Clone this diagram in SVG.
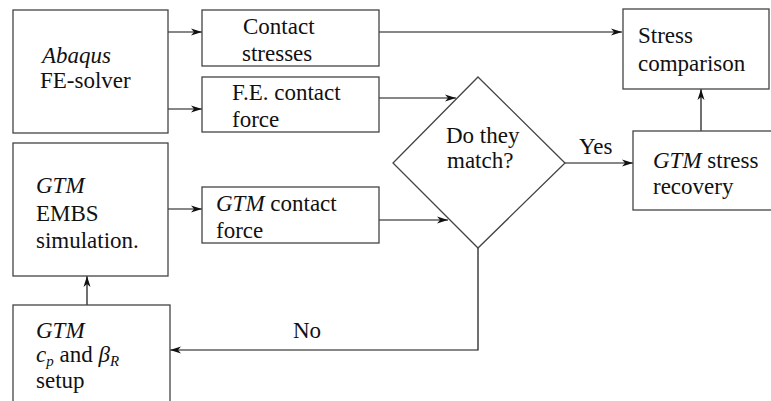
<svg xmlns="http://www.w3.org/2000/svg" width="771" height="401" viewBox="0 0 771 401">
<style>
.box{fill:#fff;stroke:#444;stroke-width:1.3}
.c{fill:none;stroke:#111;stroke-width:1.2}
</style>
<defs>
<marker id="ah" markerWidth="12" markerHeight="8" refX="11" refY="4" orient="auto" markerUnits="userSpaceOnUse">
<path d="M0,0.5 L11,4 L0,7.5 L3,4 z" fill="#111"/>
</marker>
</defs>
<rect width="771" height="401" fill="#fff"/>
<g id="connectors">
<path class="c" d="M168,32 H202" marker-end="url(#ah)"/>
<path class="c" d="M168,109 H202" marker-end="url(#ah)"/>
<path class="c" d="M379,32 H622" marker-end="url(#ah)"/>
<path class="c" d="M379,98 H456" marker-end="url(#ah)"/>
<path class="c" d="M168,209 H202" marker-end="url(#ah)"/>
<path class="c" d="M379,220 H448" marker-end="url(#ah)"/>
<path class="c" d="M565,163 H633" marker-end="url(#ah)"/>
<path class="c" d="M701,131 V89" marker-end="url(#ah)"/>
<path class="c" d="M478,248 V350 H170" marker-end="url(#ah)"/>
<path class="c" d="M87,305 V276" marker-end="url(#ah)"/>
<text style="font-family:'Liberation Serif',serif;font-size:23px" fill="#111" x="579" y="154">Yes</text>
<text style="font-family:'Liberation Serif',serif;font-size:23px" fill="#111" x="293" y="338">No</text>
</g>
<g id="abaqus">
<rect class="box" x="13" y="10" width="155" height="123"/>
<text style="font-family:'Liberation Serif',serif;font-size:23px;font-style:italic" fill="#111" x="42" y="63">Abaqus</text>
<text style="font-family:'Liberation Serif',serif;font-size:23px" fill="#111" x="40" y="88">FE-solver</text>
</g>
<g id="contact-stresses">
<rect class="box" x="202" y="10" width="177" height="56"/>
<text style="font-family:'Liberation Serif',serif;font-size:23px" fill="#111" x="243" y="34">Contact</text>
<text style="font-family:'Liberation Serif',serif;font-size:23px" fill="#111" x="242" y="61">stresses</text>
</g>
<g id="fe-contact-force">
<rect class="box" x="202" y="77" width="177" height="55"/>
<text style="font-family:'Liberation Serif',serif;font-size:23px" fill="#111" x="232" y="100">F.E. contact</text>
<text style="font-family:'Liberation Serif',serif;font-size:23px" fill="#111" x="232" y="127">force</text>
</g>
<g id="stress-comparison">
<rect class="box" x="623" y="9" width="146" height="80"/>
<text style="font-family:'Liberation Serif',serif;font-size:23px" fill="#111" x="638" y="43">Stress</text>
<text style="font-family:'Liberation Serif',serif;font-size:23px" fill="#111" x="638" y="71">comparison</text>
</g>
<g id="decision">
<polygon class="box" points="478,77 565,163 478,248 393,163"/>
<text style="font-family:'Liberation Serif',serif;font-size:23px" fill="#111" x="446" y="143">Do they</text>
<text style="font-family:'Liberation Serif',serif;font-size:23px" fill="#111" x="447" y="168">match?</text>
</g>
<g id="gtm-stress-recovery">
<rect class="box" x="633" y="131" width="140" height="79"/>
<text style="font-family:'Liberation Serif',serif;font-size:23px" fill="#111" x="653" y="168"><tspan font-style="italic">GTM</tspan> stress</text>
<text style="font-family:'Liberation Serif',serif;font-size:23px" fill="#111" x="653" y="194">recovery</text>
</g>
<g id="gtm-embs">
<rect class="box" x="13" y="143" width="155" height="133"/>
<text style="font-family:'Liberation Serif',serif;font-size:23px;font-style:italic" fill="#111" x="36" y="193">GTM</text>
<text style="font-family:'Liberation Serif',serif;font-size:23px" fill="#111" x="36" y="221">EMBS</text>
<text style="font-family:'Liberation Serif',serif;font-size:23px" fill="#111" x="36" y="248">simulation.</text>
</g>
<g id="gtm-contact-force">
<rect class="box" x="202" y="187" width="177" height="56"/>
<text style="font-family:'Liberation Serif',serif;font-size:23px" fill="#111" x="216" y="211"><tspan font-style="italic">GTM</tspan> contact</text>
<text style="font-family:'Liberation Serif',serif;font-size:23px" fill="#111" x="216" y="238">force</text>
</g>
<g id="gtm-setup">
<rect class="box" x="13" y="305" width="157" height="110"/>
<text style="font-family:'Liberation Serif',serif;font-size:23px;font-style:italic" fill="#111" x="36" y="338">GTM</text>
<text style="font-family:'Liberation Serif',serif;font-size:23px" fill="#111" x="36" y="362"><tspan font-style="italic">c</tspan><tspan font-style="italic" font-size="15" dy="4">p</tspan><tspan dy="-4"> and </tspan><tspan font-style="italic">β</tspan><tspan font-style="italic" font-size="15" dy="4">R</tspan></text>
<text style="font-family:'Liberation Serif',serif;font-size:23px" fill="#111" x="36" y="388">setup</text>
</g>
</svg>
